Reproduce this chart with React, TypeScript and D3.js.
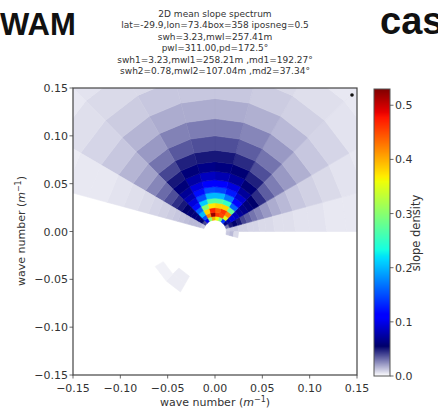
import { useEffect, useRef } from "react";
import * as d3 from "d3";

// texte du titre (6 lignes)
const titleLines = [
  "2D mean slope spectrum",
  "lat=-29.9,lon=73.4box=358 iposneg=0.5",
  "swh=3.23,mwl=257.41m",
  "pwl=311.00,pd=172.5°",
  "swh1=3.23,mwl1=258.21m ,md1=192.27°",
  "swh2=0.78,mwl2=107.04m ,md2=37.34°",
];

const axisTicks = [-0.15, -0.1, -0.05, 0, 0.05, 0.1, 0.15];
const colorbarTicks = [0, 0.1, 0.2, 0.3, 0.4, 0.5];

// secteurs de direction (debut du secteur, degres, sens trigo)
const directionsDeg = [0, 15, 30, 45, 60, 75, 90, 105, 120, 135, 150, 165];
const sectorWidthDeg = 15;

// bords des anneaux en nombre d'onde (m^-1)
const wavenumberEdges = [
  0.012, 0.016, 0.02, 0.025, 0.03, 0.035, 0.041, 0.047, 0.054, 0.063, 0.073,
  0.085, 0.1, 0.118, 0.139, 0.164, 0.193, 0.23,
];

// densite par anneau (lignes) et secteur 0..180 deg (colonnes)
const densityUpper = [
  [0.01, 0.03, 0.065, 0.14, 0.3, 0.36, 0.4, 0.3, 0.1, 0.04, 0.012, 0],
  [0.012, 0.05, 0.075, 0.35, 0.45, 0.46, 0.52, 0.42, 0.15, 0.055, 0.015, 0],
  [0.012, 0.055, 0.095, 0.42, 0.46, 0.44, 0.47, 0.38, 0.2, 0.06, 0.015, 0],
  [0.01, 0.05, 0.085, 0.28, 0.38, 0.38, 0.37, 0.3, 0.16, 0.06, 0.015, 0],
  [0.01, 0.04, 0.072, 0.16, 0.25, 0.27, 0.27, 0.21, 0.12, 0.058, 0.014, 0],
  [0.009, 0.035, 0.066, 0.11, 0.17, 0.2, 0.2, 0.15, 0.095, 0.055, 0.013, 0],
  [0.009, 0.03, 0.06, 0.09, 0.125, 0.145, 0.15, 0.12, 0.08, 0.05, 0.012, 0],
  [0.008, 0.026, 0.055, 0.072, 0.097, 0.107, 0.11, 0.095, 0.07, 0.045, 0.011, 0],
  [0.008, 0.022, 0.045, 0.058, 0.072, 0.08, 0.085, 0.075, 0.06, 0.038, 0.01, 0],
  [0.007, 0.018, 0.035, 0.048, 0.058, 0.062, 0.065, 0.06, 0.05, 0.032, 0.009, 0],
  [0.007, 0.015, 0.028, 0.038, 0.046, 0.05, 0.05, 0.048, 0.04, 0.026, 0.008, 0],
  [0.006, 0.012, 0.022, 0.03, 0.035, 0.038, 0.038, 0.036, 0.03, 0.02, 0.007, 0],
  [0.006, 0.01, 0.017, 0.022, 0.026, 0.028, 0.028, 0.027, 0.022, 0.016, 0.006, 0],
  [0.005, 0.008, 0.012, 0.015, 0.017, 0.018, 0.018, 0.018, 0.016, 0.012, 0.005, 0],
  [0.005, 0.006, 0.009, 0.01, 0.011, 0.012, 0.012, 0.012, 0.011, 0.009, 0.005, 0],
  [0.004, 0.005, 0.006, 0.007, 0.008, 0.008, 0.008, 0.008, 0.008, 0.007, 0.004, 0],
  [0.003, 0.004, 0.005, 0.005, 0.006, 0.006, 0.006, 0.006, 0.006, 0.005, 0.003, 0],
];

// quelques cellules isolees dans la moitie basse
const lowerCells = [
  { dir: 345, ring: 0, value: 0.012 },
  { dir: 345, ring: 1, value: 0.015 },
  { dir: 345, ring: 2, value: 0.008 },
  { dir: 225, ring: 8, value: 0.004 },
  { dir: 225, ring: 9, value: 0.004 },
  { dir: 210, ring: 9, value: 0.003 },
];

const vMax = 0.53;
const navyStart = 0.055;

const App = () => {
  const svgRef = useRef(null);

  useEffect(() => {
    const svg = d3.select(svgRef.current);
    svg.selectAll("*").remove();

    const font = "DejaVu Sans";
    const ink = "#333";

    const x = d3.scaleLinear().domain([-0.15, 0.15]).range([73, 357]);
    const y = d3.scaleLinear().domain([-0.15, 0.15]).range([375, 88]);

    // palette : blanc -> bleu marine, puis jet
    const jr = d3.scaleLinear().domain([0, 0.35, 0.66, 0.89, 1]).range([0, 0, 1, 1, 0.5]);
    const jg = d3.scaleLinear().domain([0, 0.125, 0.375, 0.64, 0.91, 1]).range([0, 0, 1, 1, 0, 0]);
    const jb = d3.scaleLinear().domain([0, 0.11, 0.34, 0.65, 1]).range([0.42, 1, 1, 0, 0]);
    const jet = (t) => d3.rgb(jr(t) * 255, jg(t) * 255, jb(t) * 255);
    const color = (v) => {
      if (v < navyStart) return d3.interpolateRgb("#ffffff", jet(0))(v / navyStart);
      return jet(Math.min(1, (v - navyStart) / (vMax - navyStart))).toString();
    };

    // titres
    svg.append("text").attr("x", 0).attr("y", 35)
      .attr("font-family", "Liberation Sans").attr("font-weight", "bold")
      .attr("font-size", 31).attr("fill", "#111").text("WAM");
    svg.append("text").attr("x", 380).attr("y", 34)
      .attr("font-family", "Liberation Sans").attr("font-weight", "bold")
      .attr("font-size", 38).attr("fill", "#111").text("cas");

    svg.append("g").selectAll("text")
      .data(titleLines)
      .join("text")
      .attr("x", 215)
      .attr("y", (_, i) => 16.5 + i * 11.5)
      .attr("text-anchor", "middle")
      .attr("font-family", font)
      .attr("font-size", 9)
      .attr("fill", ink)
      .text(d => d);

    // cellules du spectre
    svg.append("clipPath").attr("id", "plotclip")
      .append("rect").attr("x", 73).attr("y", 88).attr("width", 284).attr("height", 287);

    const cells = [];
    densityUpper.forEach((row, ring) => {
      row.forEach((value, s) => {
        if (value > 0) cells.push({ dir: directionsDeg[s], ring, value });
      });
    });
    lowerCells.forEach(c => cells.push(c));

    const cellPath = (c) => {
      const k0 = wavenumberEdges[c.ring];
      const k1 = wavenumberEdges[c.ring + 1];
      const a0 = (c.dir * Math.PI) / 180;
      const a1 = ((c.dir + sectorWidthDeg) * Math.PI) / 180;
      const pts = [
        [k0 * Math.cos(a0), k0 * Math.sin(a0)],
        [k1 * Math.cos(a0), k1 * Math.sin(a0)],
        [k1 * Math.cos(a1), k1 * Math.sin(a1)],
        [k0 * Math.cos(a1), k0 * Math.sin(a1)],
      ];
      return d3.line().x(p => x(p[0])).y(p => y(p[1]))(pts) + "Z";
    };

    svg.append("g").attr("clip-path", "url(#plotclip)")
      .selectAll("path")
      .data(cells)
      .join("path")
      .attr("d", cellPath)
      .attr("fill", d => color(d.value))
      .attr("stroke", d => color(d.value))
      .attr("stroke-width", 0.6);

    // point noir en haut a droite
    svg.append("circle").attr("cx", 352).attr("cy", 95).attr("r", 1.8).attr("fill", "#111");

    // cadre
    svg.append("rect").attr("x", 73).attr("y", 88).attr("width", 284).attr("height", 287)
      .attr("fill", "none").attr("stroke", "#444").attr("stroke-width", 1.2);

    // axe x
    const gx = svg.append("g");
    gx.selectAll("line").data(axisTicks).join("line")
      .attr("x1", d => x(d)).attr("x2", d => x(d))
      .attr("y1", 375).attr("y2", 378.5)
      .attr("stroke", "#444").attr("stroke-width", 0.8);
    gx.selectAll("text").data(axisTicks).join("text")
      .attr("x", d => x(d)).attr("y", 392)
      .attr("text-anchor", "middle")
      .attr("font-family", font).attr("font-size", 11).attr("fill", ink)
      .text(d => d3.format(".2f")(d).replace("-", "\u2212"));

    // axe y
    const gy = svg.append("g");
    gy.selectAll("line").data(axisTicks).join("line")
      .attr("x1", 69.5).attr("x2", 73)
      .attr("y1", d => y(d)).attr("y2", d => y(d))
      .attr("stroke", "#444").attr("stroke-width", 0.8);
    gy.selectAll("text").data(axisTicks).join("text")
      .attr("x", 68).attr("y", d => y(d) + 4)
      .attr("text-anchor", "end")
      .attr("font-family", font).attr("font-size", 11).attr("fill", ink)
      .text(d => d3.format(".2f")(d).replace("-", "\u2212"));

    // libelles des axes
    const addLabel = (sel) => {
      sel.append("tspan").text("wave number (");
      sel.append("tspan").attr("font-style", "italic").text("m");
      sel.append("tspan").attr("dy", -4).attr("font-size", 8).text("\u22121");
      sel.append("tspan").attr("dy", 4).text(")");
    };
    const xl = svg.append("text").attr("x", 215).attr("y", 406)
      .attr("text-anchor", "middle").attr("font-family", font)
      .attr("font-size", 11).attr("fill", ink);
    addLabel(xl);
    const yl = svg.append("text")
      .attr("transform", "translate(25,231) rotate(-90)")
      .attr("text-anchor", "middle").attr("font-family", font)
      .attr("font-size", 11).attr("fill", ink);
    addLabel(yl);

    // barre de couleur
    const cb = d3.scaleLinear().domain([0, vMax]).range([376, 89]);
    const rows = d3.range(89, 376);
    svg.append("g").selectAll("rect").data(rows).join("rect")
      .attr("x", 374).attr("y", d => d).attr("width", 16).attr("height", 1.2)
      .attr("fill", d => color(cb.invert(d + 0.5)));
    svg.append("rect").attr("x", 374).attr("y", 89).attr("width", 16).attr("height", 287)
      .attr("fill", "none").attr("stroke", "#555").attr("stroke-width", 1);
    svg.append("g").selectAll("line").data(colorbarTicks).join("line")
      .attr("x1", 390).attr("x2", 393.5)
      .attr("y1", d => cb(d)).attr("y2", d => cb(d))
      .attr("stroke", "#444").attr("stroke-width", 0.8);
    svg.append("g").selectAll("text").data(colorbarTicks).join("text")
      .attr("x", 395).attr("y", d => cb(d) + 4)
      .attr("font-family", font).attr("font-size", 11).attr("fill", ink)
      .text(d => d3.format(".1f")(d));
    svg.append("text")
      .attr("transform", "translate(420,233) rotate(-90)")
      .attr("text-anchor", "middle").attr("font-family", font)
      .attr("font-size", 11.5).attr("fill", ink)
      .text("slope density");
  }, []);

  return (
    <svg
      ref={svgRef}
      width={438}
      height={412}
      style={{ position: "absolute", left: 0, top: 0, background: "#fff" }}
    />
  );
};

export default App;
